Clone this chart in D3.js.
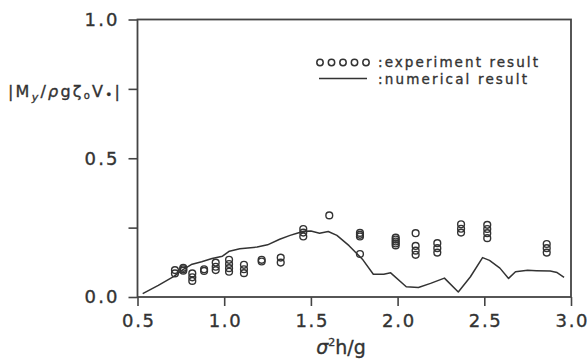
<!DOCTYPE html>
<html>
<head>
<meta charset="utf-8">
<script src="https://cdn.jsdelivr.net/npm/d3@7"></script>
<style>
  html, body { margin: 0; padding: 0; background: #fff; }
  svg { display: block; }
  text { font-family: "DejaVu Sans", "Liberation Sans", sans-serif; fill: #333; stroke: #333; stroke-width: 0.35px; }
</style>
</head>
<body>
<svg id="chart" width="587" height="359"></svg>
<script>
// Measured response: each entry is one frequency with its repeated runs
const expX = [0.716, 0.764, 0.816, 0.884, 0.951, 1.028, 1.114, 1.216, 1.326, 1.456, 1.606, 1.783, 1.989, 2.104, 2.229, 2.366, 2.517, 2.860];
const expY = [
  [0.097, 0.085],
  [0.095, 0.100, 0.105],
  [0.085, 0.071, 0.058],
  [0.094, 0.100],
  [0.124, 0.109, 0.097],
  [0.134, 0.119, 0.104, 0.091],
  [0.116, 0.100, 0.086],
  [0.128, 0.134],
  [0.142, 0.124],
  [0.245, 0.232, 0.218],
  [0.294],
  [0.231, 0.224, 0.218, 0.155],
  [0.214, 0.207, 0.200, 0.193, 0.186],
  [0.230, 0.184, 0.167, 0.152],
  [0.194, 0.176, 0.160],
  [0.262, 0.246, 0.232],
  [0.260, 0.245, 0.230, 0.212],
  [0.191, 0.176, 0.160]
];

// Computed response curve
const numX = [0.53, 0.62, 0.71, 0.76, 0.81, 0.87, 0.93, 0.99, 1.03, 1.09, 1.19, 1.25, 1.32, 1.38, 1.42, 1.46, 1.50, 1.55, 1.60, 1.65, 1.72, 1.80, 1.86, 1.92, 1.96, 2.05, 2.12, 2.19, 2.27, 2.35, 2.42, 2.49, 2.53, 2.59, 2.64, 2.68, 2.75, 2.80, 2.88, 2.92, 2.96];
const numY = [0.012, 0.042, 0.074, 0.098, 0.117, 0.127, 0.139, 0.147, 0.165, 0.174, 0.180, 0.188, 0.208, 0.222, 0.230, 0.237, 0.238, 0.230, 0.236, 0.222, 0.185, 0.134, 0.082, 0.082, 0.087, 0.037, 0.034, 0.049, 0.068, 0.018, 0.073, 0.142, 0.132, 0.104, 0.067, 0.091, 0.096, 0.095, 0.094, 0.088, 0.071];

const xTicks = [0.5, 1.0, 1.5, 2.0, 2.5, 3.0];
const yTicks = [0.0, 0.25, 0.5, 0.75, 1.0];
const yLabelled = [0.0, 0.5, 1.0];

const svg = d3.select("#chart");
const ink = "#333";

const x = d3.scaleLinear().domain([0.5, 3.0]).range([137.5, 571]);
const y = d3.scaleLinear().domain([0, 1]).range([297, 19.5]);

// frame
svg.append("rect")
  .attr("x", x(0.5)).attr("y", y(1))
  .attr("width", x(3.0) - x(0.5)).attr("height", y(0) - y(1))
  .attr("fill", "none").attr("stroke", "#444").attr("stroke-width", 1.8);

// x axis
const gx = svg.append("g")
  .attr("transform", `translate(0,${y(0)})`)
  .call(d3.axisBottom(x).tickValues(xTicks).tickSize(9).tickSizeOuter(0).tickPadding(8).tickFormat(d3.format(".1f")));
gx.select(".domain").remove();
gx.selectAll(".tick line").attr("stroke", "#444").attr("stroke-width", 1.6);
gx.selectAll(".tick text")
  .attr("font-size", 18).attr("fill", ink)
  .attr("textLength", 32).attr("lengthAdjust", "spacing")
  .attr("font-family", "DejaVu Sans");

// y axis
const gy = svg.append("g")
  .attr("transform", `translate(${x(0.5)},0)`)
  .call(d3.axisLeft(y).tickValues(yTicks).tickSize(9).tickSizeOuter(0).tickPadding(11)
    .tickFormat(d => yLabelled.includes(d) ? d3.format(".1f")(d) : ""));
gy.select(".domain").remove();
gy.selectAll(".tick line").attr("stroke", "#444").attr("stroke-width", 1.6);
gy.selectAll(".tick text")
  .attr("font-size", 18).attr("fill", ink)
  .attr("textLength", d => yLabelled.includes(d) ? 33 : null).attr("lengthAdjust", "spacing")
  .attr("font-family", "DejaVu Sans");

// numerical curve
const line = d3.line().x(d => x(d[0])).y(d => y(d[1]));
svg.append("path")
  .datum(d3.zip(numX, numY))
  .attr("d", line)
  .attr("fill", "none").attr("stroke", ink).attr("stroke-width", 1.5)
  .attr("stroke-linejoin", "round");

// experiment points
const pts = [];
expX.forEach((xv, i) => expY[i].forEach(yv => pts.push([xv, yv])));
svg.append("g").selectAll("circle").data(pts).join("circle")
  .attr("cx", d => x(d[0])).attr("cy", d => y(d[1]))
  .attr("r", 3.4)
  .attr("fill", "none").attr("stroke", ink).attr("stroke-width", 1.4);

// y label
const yl = svg.append("text")
  .attr("x", 8).attr("y", 97)
  .attr("font-size", 16).attr("fill", ink)
  .attr("textLength", 112).attr("lengthAdjust", "spacing");
yl.append("tspan").text("|M");
yl.append("tspan").attr("font-size", 11).attr("font-style", "italic").attr("dy", 4).text("y");
yl.append("tspan").attr("dy", -4).text("/");
yl.append("tspan").attr("font-style", "italic").text("ρ");
yl.append("tspan").text("gζ");
yl.append("tspan").attr("font-size", 10).attr("dy", 2).text("o");
yl.append("tspan").attr("dy", -2).text("V");
yl.append("tspan").attr("font-size", 12).attr("dy", 2).text("•");
yl.append("tspan").attr("dy", -2).text("|");

// x label
const xl = svg.append("text")
  .attr("x", 341).attr("y", 354)
  .attr("text-anchor", "middle")
  .attr("font-size", 19).attr("fill", ink);
xl.append("tspan").attr("font-style", "italic").text("σ");
xl.append("tspan").attr("font-size", 11).attr("dy", -8).text("2");
xl.append("tspan").attr("dy", 8).text("h/g");

// legend
const legend = svg.append("g");
legend.selectAll("circle").data(d3.range(5)).join("circle")
  .attr("cx", i => 320 + i * 11.5).attr("cy", 62.5).attr("r", 3.2)
  .attr("fill", "none").attr("stroke", ink).attr("stroke-width", 1.5);
legend.append("line")
  .attr("x1", 319).attr("x2", 367).attr("y1", 78.5).attr("y2", 78.5)
  .attr("stroke", ink).attr("stroke-width", 1.6);
legend.append("text")
  .attr("x", 378).attr("y", 67).attr("font-size", 13.5)
  .attr("textLength", 160).attr("lengthAdjust", "spacing")
  .text(":experiment  result");
legend.append("text")
  .attr("x", 378).attr("y", 84).attr("font-size", 13.5)
  .attr("textLength", 149).attr("lengthAdjust", "spacing")
  .text(":numerical  result");
</script>
</body>
</html>
